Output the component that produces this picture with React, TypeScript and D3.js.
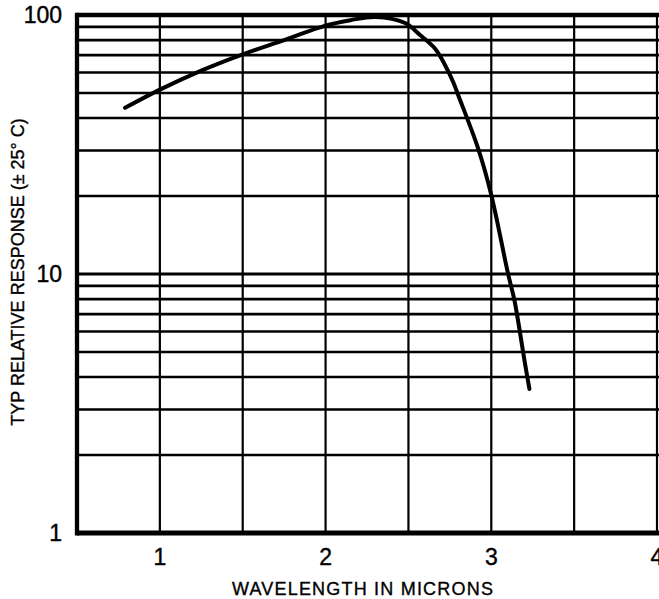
import React from "react";
import * as d3 from "d3";

const wavelength = [0.79, 1.0, 1.25, 1.5, 1.75, 2.0, 2.15, 2.3, 2.48, 2.57, 2.66, 2.72, 2.77, 2.8, 2.92, 3.0, 3.1, 3.14, 3.2, 3.23];
const response = [43.8, 51.5, 61, 70.5, 80, 91, 95.5, 98.3, 93.1, 83.7, 74.3, 64.3, 55.1, 49.1, 30.6, 20.2, 10.1, 7.9, 4.65, 3.6];

const xGridValues = [1, 1.5, 2, 2.5, 3, 3.5, 4];
const xTickLabels = [1, 2, 3, 4];
const yGridValues = [2, 3, 4, 5, 6, 7, 8, 9, 10, 20, 30, 40, 50, 60, 70, 80, 90];
const yTickLabels = [1, 10, 100];

const W = 659;
const H = 599;

export default function App() {
  const x = d3.scaleLinear().domain([0.5, 4]).range([77, 657]);
  const y = d3.scaleLog().domain([1, 100]).range([533, 15]);
  const pts: [number, number][] = wavelength.map((w, i) => [w, response[i]]);
  const line = d3
    .line<[number, number]>()
    .x((d) => x(d[0]))
    .y((d) => y(d[1]))
    .curve(d3.curveCatmullRom.alpha(0.5));
  const font = "'Liberation Sans', Arial, Helvetica, sans-serif";
  const left = x(0.5);
  return (
    <svg
      width={W}
      height={H}
      style={{ position: "absolute", left: 0, top: 0, background: "#fff" }}
    >
      <rect x={0} y={0} width={W} height={H} fill="#fff" />
      {yGridValues.map((v) => (
        <line
          key={"h" + v}
          x1={left}
          x2={W + 2}
          y1={y(v)}
          y2={y(v)}
          stroke="#000"
          strokeWidth={v === 10 ? 3.2 : 2.6}
        />
      ))}
      {xGridValues.map((v) => (
        <line
          key={"v" + v}
          x1={x(v)}
          x2={x(v)}
          y1={y(100)}
          y2={y(1)}
          stroke="#000"
          strokeWidth={2.2}
        />
      ))}
      {/* frame */}
      <line x1={left} x2={W + 2} y1={y(100)} y2={y(100)} stroke="#000" strokeWidth={4.5} />
      <line x1={left} x2={W + 2} y1={y(1)} y2={y(1)} stroke="#000" strokeWidth={5} />
      <line x1={left} x2={left} y1={y(100) - 2.2} y2={y(1) + 2.5} stroke="#000" strokeWidth={4.3} />
      <path
        d={line(pts) || ""}
        fill="none"
        stroke="#000"
        strokeWidth={4}
        strokeLinecap="round"
        strokeLinejoin="round"
      />
      {yTickLabels.map((v) => (
        <text
          key={"yl" + v}
          x={62}
          y={y(v) + 8}
          textAnchor="end"
          fontFamily={font}
          fontSize={23}
          fill="#000"
          stroke="#000"
          strokeWidth={0.4}
        >
          {v}
        </text>
      ))}
      {xTickLabels.map((v) => (
        <text
          key={"xl" + v}
          x={x(v)}
          y={565}
          textAnchor="middle"
          fontFamily={font}
          fontSize={23}
          fill="#000"
          stroke="#000"
          strokeWidth={0.4}
        >
          {v}
        </text>
      ))}
      <text
        x={363}
        y={595}
        textAnchor="middle"
        fontFamily={font}
        fontSize={18}
        letterSpacing={1.2}
        fill="#000"
        stroke="#000"
        strokeWidth={0.35}
      >
        WAVELENGTH IN MICRONS
      </text>
      <text
        transform={`translate(24, 272) rotate(-90)`}
        textAnchor="middle"
        fontFamily={font}
        fontSize={18}
        fill="#000"
        stroke="#000"
        strokeWidth={0.35}
      >
        TYP RELATIVE RESPONSE (± 25° C)
      </text>
    </svg>
  );
}
